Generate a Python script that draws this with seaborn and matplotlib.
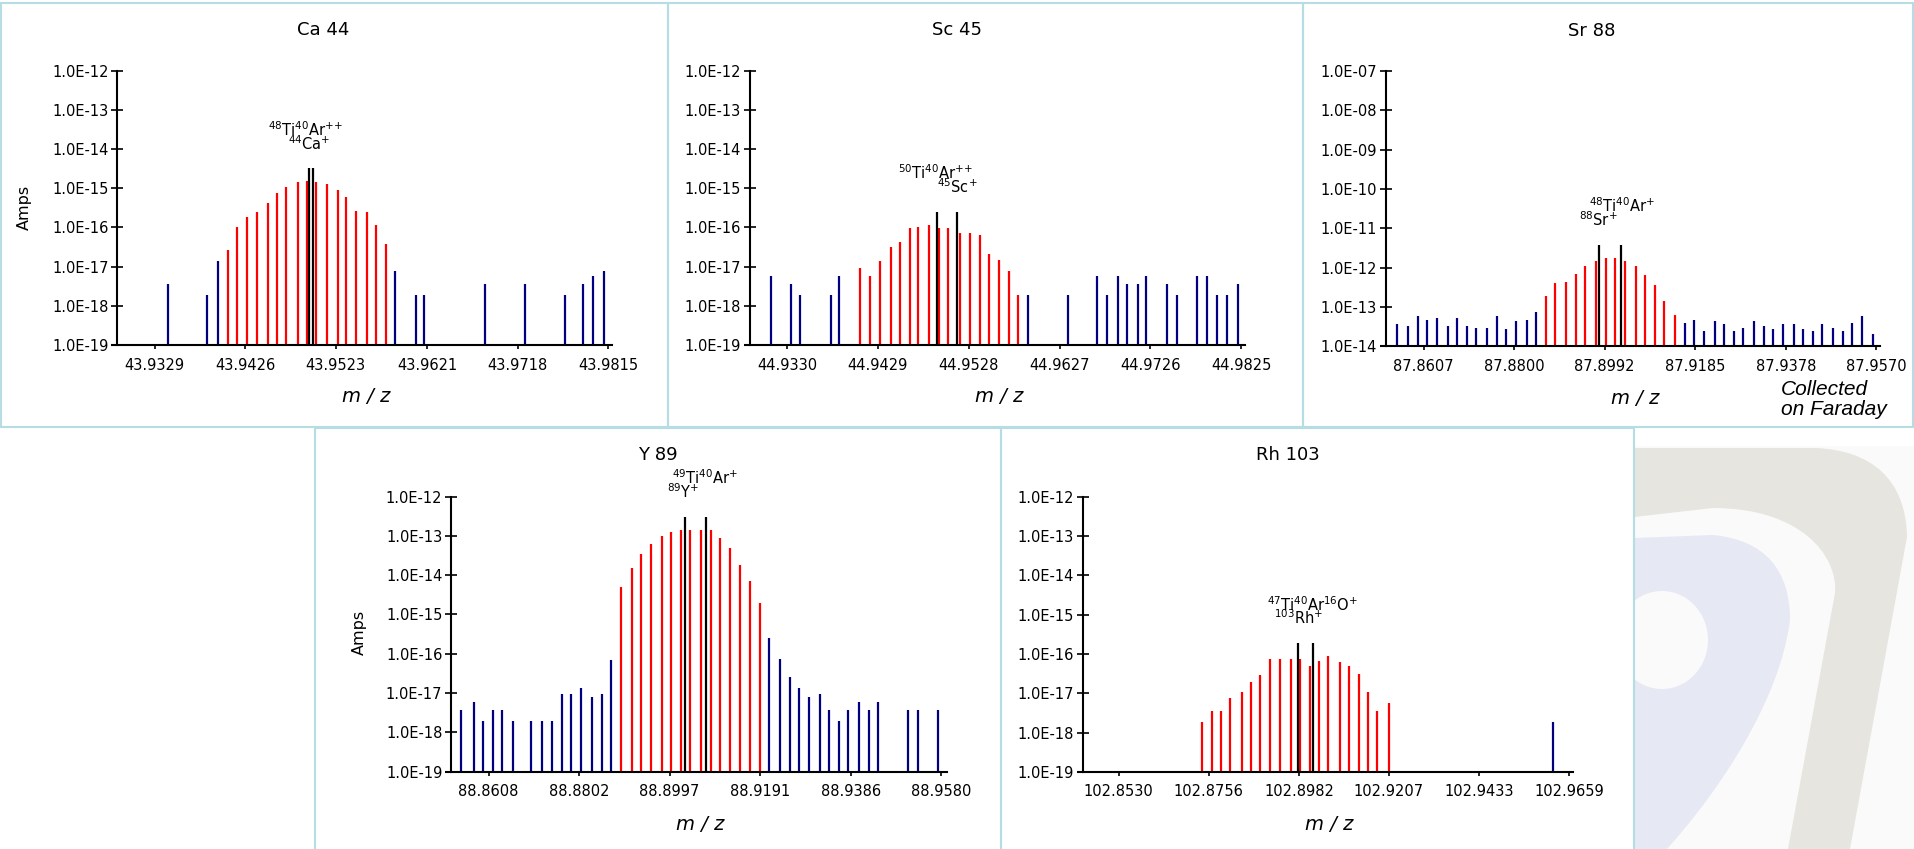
import numpy as np
import pandas as pd
import seaborn as sns
import matplotlib.pyplot as plt
from matplotlib.patches import Rectangle, PathPatch, Ellipse
from matplotlib.path import Path

W, H = 1915, 849

# ---- data (m/z, Amps, peak kind b=blue r=red k=black) ----
ca44_mz = [43.9343, 43.9385, 43.9397, 43.9407, 43.9417, 43.9428, 43.9439, 43.9450,
           43.9460, 43.9470, 43.9482, 43.9492, 43.9494, 43.9498, 43.9502, 43.9514,
           43.9525, 43.9534, 43.9545, 43.9556, 43.9566, 43.9577, 43.9586, 43.9609,
           43.9618, 43.9683, 43.9726, 43.9769, 43.9788, 43.9799, 43.9810]
ca44_amps = [3.5e-18, 1.9e-18, 1.4e-17, 2.7e-17, 1.0e-16, 1.85e-16, 2.5e-16, 4.2e-16,
             7.6e-16, 1.08e-15, 1.44e-15, 1.53e-15, 3.2e-15, 3.2e-15, 1.44e-15, 1.29e-15,
             9.0e-16, 6.0e-16, 2.6e-16, 2.5e-16, 1.16e-16, 3.8e-17, 7.7e-18, 1.9e-18,
             1.9e-18, 3.5e-18, 3.5e-18, 1.9e-18, 3.5e-18, 5.8e-18, 7.7e-18]
ca44_kind = "bbb" + "r" * 9 + "kk" + "r" * 8 + "b" * 9

sc45_mz = [44.9313, 44.9334, 44.9344, 44.9378, 44.9387, 44.9410, 44.9420, 44.9431,
           44.9443, 44.9453, 44.9464, 44.9473, 44.9485, 44.9493, 44.9496, 44.9506,
           44.9515, 44.9519, 44.9529, 44.9540, 44.9550, 44.9561, 44.9572, 44.9582,
           44.9593, 44.9636, 44.9668, 44.9679, 44.9691, 44.9701, 44.9712, 44.9721,
           44.9744, 44.9755, 44.9777, 44.9788, 44.9798, 44.9809, 44.9821]
sc45_amps = [5.8e-18, 3.5e-18, 1.9e-18, 1.9e-18, 5.8e-18, 9.2e-18, 5.8e-18, 1.4e-17,
             3.2e-17, 4.3e-17, 9.7e-17, 1.0e-16, 1.16e-16, 2.5e-16, 9.7e-17, 9.7e-17,
             2.5e-16, 7.2e-17, 7.2e-17, 6.4e-17, 2.1e-17, 1.48e-17, 7.7e-18, 1.9e-18,
             1.9e-18, 1.9e-18, 5.8e-18, 1.9e-18, 5.8e-18, 3.5e-18, 3.5e-18, 5.8e-18,
             3.5e-18, 1.9e-18, 5.8e-18, 5.8e-18, 1.9e-18, 1.9e-18, 3.5e-18]
sc45_kind = "b" * 5 + "r" * 8 + "k" + "rr" + "k" + "r" * 7 + "b" * 15

sr88_mz = [87.8550, 87.8573, 87.8595, 87.8614, 87.8635, 87.8659, 87.8678, 87.8698,
           87.8718, 87.8742, 87.8763, 87.8782, 87.8803, 87.8826, 87.8846, 87.8867,
           87.8886, 87.8909, 87.8931, 87.8950, 87.8973, 87.8980, 87.8995, 87.9014,
           87.9027, 87.9036, 87.9059, 87.9078, 87.9100, 87.9118, 87.9142, 87.9163,
           87.9182, 87.9204, 87.9227, 87.9246, 87.9268, 87.9287, 87.9310, 87.9332,
           87.9351, 87.9371, 87.9395, 87.9414, 87.9435, 87.9455, 87.9478, 87.9499,
           87.9519, 87.9540, 87.9563]
sr88_amps = [3.77e-14, 3.29e-14, 5.9e-14, 4.67e-14, 5.25e-14, 3.29e-14, 5.25e-14, 3.29e-14,
             2.92e-14, 2.92e-14, 5.9e-14, 2.76e-14, 4.4e-14, 4.67e-14, 7.46e-14, 1.9e-13,
             4.07e-13, 4.32e-13, 6.9e-13, 1.1e-12, 1.48e-12, 3.77e-12, 1.78e-12, 1.78e-12,
             3.77e-12, 1.48e-12, 1.1e-12, 6.5e-13, 3.6e-13, 1.42e-13, 6.26e-14, 3.92e-14,
             4.67e-14, 2.45e-14, 4.4e-14, 3.7e-14, 2.45e-14, 2.92e-14, 4.4e-14, 3.29e-14,
             2.76e-14, 3.7e-14, 3.7e-14, 2.76e-14, 2.45e-14, 3.7e-14, 2.92e-14, 2.45e-14,
             3.92e-14, 5.9e-14, 2.06e-14]
sr88_kind = "b" * 15 + "r" * 6 + "k" + "rr" + "k" + "r" * 6 + "b" * 20

y89_mz = [88.8549, 88.8576, 88.8596, 88.8617, 88.8636, 88.8660, 88.8700, 88.8722,
          88.8745, 88.8765, 88.8786, 88.8806, 88.8830, 88.8851, 88.8870, 88.8892,
          88.8916, 88.8936, 88.8956, 88.8980, 88.9000, 88.9021, 88.9030, 88.9041,
          88.9064, 88.9075, 88.9086, 88.9105, 88.9127, 88.9149, 88.9169, 88.9192,
          88.9210, 88.9234, 88.9255, 88.9275, 88.9297, 88.9320, 88.9340, 88.9361,
          88.9380, 88.9404, 88.9425, 88.9445, 88.9509, 88.9530, 88.9573]
y89_amps = [3.74e-18, 6.0e-18, 1.96e-18, 3.74e-18, 3.74e-18, 1.96e-18, 1.96e-18, 1.96e-18,
            1.96e-18, 9.6e-18, 9.6e-18, 1.36e-17, 8.0e-18, 9.6e-18, 6.7e-17, 4.86e-15,
            1.48e-14, 3.38e-14, 6.08e-14, 9.7e-14, 1.23e-13, 1.38e-13, 2.97e-13, 1.38e-13,
            1.38e-13, 2.97e-13, 1.38e-13, 8.65e-14, 4.8e-14, 1.77e-14, 6.9e-15, 1.9e-15,
            2.43e-16, 7.5e-17, 2.6e-17, 1.36e-17, 8.0e-18, 9.6e-18, 3.74e-18, 1.96e-18,
            3.74e-18, 6.0e-18, 3.74e-18, 6.0e-18, 3.74e-18, 3.74e-18, 3.74e-18]
y89_kind = "b" * 15 + "r" * 7 + "k" + "rr" + "k" + "r" * 6 + "b" * 15

rh103_mz = [102.8738, 102.8764, 102.8786, 102.8810, 102.8839, 102.8861, 102.8885,
            102.8909, 102.8934, 102.8962, 102.8980, 102.8984, 102.9009, 102.9016,
            102.9032, 102.9056, 102.9084, 102.9108, 102.9132, 102.9154, 102.9178,
            102.9207, 102.9620]
rh103_amps = [1.91e-18, 3.65e-18, 3.65e-18, 7.8e-18, 1.11e-17, 2.0e-17, 2.85e-17,
              7.3e-17, 7.3e-17, 7.7e-17, 1.86e-16, 7.3e-17, 5.1e-17, 1.86e-16,
              6.5e-17, 8.7e-17, 6.1e-17, 5.1e-17, 3.2e-17, 1.11e-17, 3.65e-18,
              5.8e-18, 1.91e-18]
rh103_kind = "r" * 10 + "k" + "rr" + "k" + "r" * 8 + "b"

ca44_ticks = ["43.9329", "43.9426", "43.9523", "43.9621", "43.9718", "43.9815"]
sc45_ticks = ["44.9330", "44.9429", "44.9528", "44.9627", "44.9726", "44.9825"]
sr88_ticks = ["87.8607", "87.8800", "87.8992", "87.9185", "87.9378", "87.9570"]
y89_ticks = ["88.8608", "88.8802", "88.8997", "88.9191", "88.9386", "88.9580"]
rh103_ticks = ["102.8530", "102.8756", "102.8982", "102.9207", "102.9433", "102.9659"]

# ---- style ----
sns.set_theme(style="white")
plt.rcParams['font.family'] = ['DejaVu Sans']
plt.rcParams['mathtext.fontset'] = 'dejavusans'

colors = {'b': '#000080', 'r': '#ff0000', 'k': '#000000'}
border = '#b5dde3'

fig = plt.figure(figsize=(W / 100, H / 100), dpi=100)


def fx(x):
    return x / W


def fy(y):
    return 1 - y / H


# ---- watermark, bottom right ----
wm = fig.add_axes([fx(1634), fy(849), (W - 1634) / W, (849 - 430) / H])
wm.set_xlim(1634, W)
wm.set_ylim(849, 430)
wm.axis('off')
wm.add_patch(Rectangle((1634, 446), W - 1634, 410, fc='#fafafa', ec='none'))
M, L, C, Z = Path.MOVETO, Path.LINETO, Path.CURVE4, Path.CLOSEPOLY
grey = Path([(1634, 448), (1815, 448), (1872, 450), (1906, 480), (1907, 537),
             (1850, 849), (1788, 849), (1835, 593), (1838, 555), (1800, 508),
             (1713, 508), (1634, 517), (1634, 448)],
            [M, L, C, C, C, L, L, L, C, C, C, L, Z])
wm.add_patch(PathPatch(grey, fc='#e7e5df', ec='none'))
lav = Path([(1634, 538), (1713, 535), (1765, 540), (1790, 570), (1790, 620),
            (1780, 700), (1720, 790), (1667, 849), (1634, 849), (1634, 538)],
           [M, L, C, C, C, C, C, C, L, Z])
wm.add_patch(PathPatch(lav, fc='#e6e8f4', ec='none'))
wm.add_patch(Ellipse((1662, 640), 92, 98, fc='#fafafa', ec='none'))

# ---- panel frames ----
for (x0, y0, x1, y1) in [(1, 3, 668, 427), (668, 3, 1303, 427), (1303, 3, 1913, 427),
                         (315, 428, 1001, 852), (1001, 428, 1634, 852)]:
    fig.add_artist(Rectangle((fx(x0), fy(y1)), (x1 - x0) / W, (y1 - y0) / H,
                             transform=fig.transFigure, fill=False, ec=border, lw=1.5))

panels = [
    dict(title="Ca 44", mz=ca44_mz, amps=ca44_amps, kind=ca44_kind, ticks=ca44_ticks,
         box=(117.5, 70.7, 612, 345), xlim=(43.9289, 43.9819), yexp=(-19, -12),
         title_xy=(323, 30), xlabel_xy=(366, 397), amps_xy=(24, 207),
         notes=[(r"$^{48}$Ti$^{40}$Ar$^{+}$$^{+}$", 43.9491, -13.51),
                (r"$^{44}$Ca$^{+}$", 43.9495, -13.85)]),
    dict(title="Sc 45", mz=sc45_mz, amps=sc45_amps, kind=sc45_kind, ticks=sc45_ticks,
         box=(750.2, 70.7, 1245, 345), xlim=(44.9290, 44.9829), yexp=(-19, -12),
         title_xy=(957, 30), xlabel_xy=(999, 397), amps_xy=None,
         notes=[(r"$^{50}$Ti$^{40}$Ar$^{+}$$^{+}$", 44.9492, -14.60),
                (r"$^{45}$Sc$^{+}$", 44.9516, -14.96)]),
    dict(title="Sr 88", mz=sr88_mz, amps=sr88_amps, kind=sr88_kind, ticks=sr88_ticks,
         box=(1385.7, 71, 1880, 346.3), xlim=(87.8526, 87.9578), yexp=(-14, -7),
         title_xy=(1592, 31), xlabel_xy=(1635, 398), amps_xy=None,
         notes=[(r"$^{48}$Ti$^{40}$Ar$^{+}$", 87.9028, -10.42),
                (r"$^{88}$Sr$^{+}$", 87.8979, -10.77)]),
    dict(title="Y 89", mz=y89_mz, amps=y89_amps, kind=y89_kind, ticks=y89_ticks,
         box=(451.4, 496.5, 946.5, 771.5), xlim=(88.8528, 88.9592), yexp=(-19, -12),
         title_xy=(658, 455), xlabel_xy=(700, 825), amps_xy=(359, 632),
         notes=[(r"$^{49}$Ti$^{40}$Ar$^{+}$", 88.9072, -11.52),
                (r"$^{89}$Y$^{+}$", 88.9027, -11.87)]),
    dict(title="Rh 103", mz=rh103_mz, amps=rh103_amps, kind=rh103_kind, ticks=rh103_ticks,
         box=(1082.8, 496.8, 1573, 772), xlim=(102.8440, 102.9669), yexp=(-19, -12),
         title_xy=(1288, 455), xlabel_xy=(1329, 825), amps_xy=None,
         notes=[(r"$^{47}$Ti$^{40}$Ar$^{16}$O$^{+}$", 102.9016, -14.75),
                (r"$^{103}$Rh$^{+}$", 102.8980, -15.07)]),
]

for p in panels:
    l, t, r, b = p['box']
    ax = fig.add_axes([fx(l), fy(b), (r - l) / W, (b - t) / H])
    ax.patch.set_alpha(0)
    df = pd.DataFrame({'mz': p['mz'], 'amps': p['amps'], 'kind': list(p['kind'])})
    lo, hi = p['yexp']
    ax.set_yscale('log')
    for k in ['b', 'r', 'k']:
        sub = df[df['kind'] == k]
        ax.vlines(sub['mz'], 10.0 ** lo, sub['amps'], color=colors[k], lw=1.6)
    ax.set_xlim(*p['xlim'])
    ax.set_ylim(10.0 ** lo, 10.0 ** hi)
    exps = list(range(lo, hi + 1))
    ax.set_yticks([10.0 ** e for e in exps])
    ax.set_yticklabels([f"1.0E-{-e:02d}" for e in exps])
    ax.minorticks_off()
    ax.set_xticks([float(v) for v in p['ticks']])
    ax.set_xticklabels(p['ticks'])
    sns.despine(ax=ax)
    for s in ['left', 'bottom']:
        ax.spines[s].set_color('black')
        ax.spines[s].set_linewidth(1.5)
    # x axis line runs a few pixels left of the y axis
    ax.plot([-6 / (r - l), 0], [0, 0], transform=ax.transAxes, color='black',
            lw=1.5, clip_on=False, solid_capstyle='butt')
    ax.tick_params(axis='y', direction='inout', length=9, width=1.2, pad=2,
                   labelsize=10.5, colors='black', left=True)
    ax.tick_params(axis='x', direction='out', length=3, width=1.2, pad=6,
                   labelsize=10.5, colors='black', bottom=True)
    for txt, x, e in p['notes']:
        ax.text(x, 10.0 ** e, txt, ha='center', va='center', fontsize=10.5,
                color='black', clip_on=False)
    fig.text(fx(p['title_xy'][0]), fy(p['title_xy'][1]), p['title'],
             ha='center', va='center', fontsize=13, color='black')
    fig.text(fx(p['xlabel_xy'][0]), fy(p['xlabel_xy'][1]), "m / z",
             ha='center', va='center', fontsize=14, style='italic', color='black')
    if p['amps_xy'] is not None:
        fig.text(fx(p['amps_xy'][0]), fy(p['amps_xy'][1]), "Amps", rotation=90,
                 ha='center', va='center', fontsize=11.5, color='black')

fig.text(fx(1781), fy(399.5), "Collected\non Faraday", ha='left', va='center',
         fontsize=15, style='italic', family=['Liberation Sans', 'DejaVu Sans'],
         color='black', linespacing=1.1)

fig.savefig('out.png', dpi=100)
